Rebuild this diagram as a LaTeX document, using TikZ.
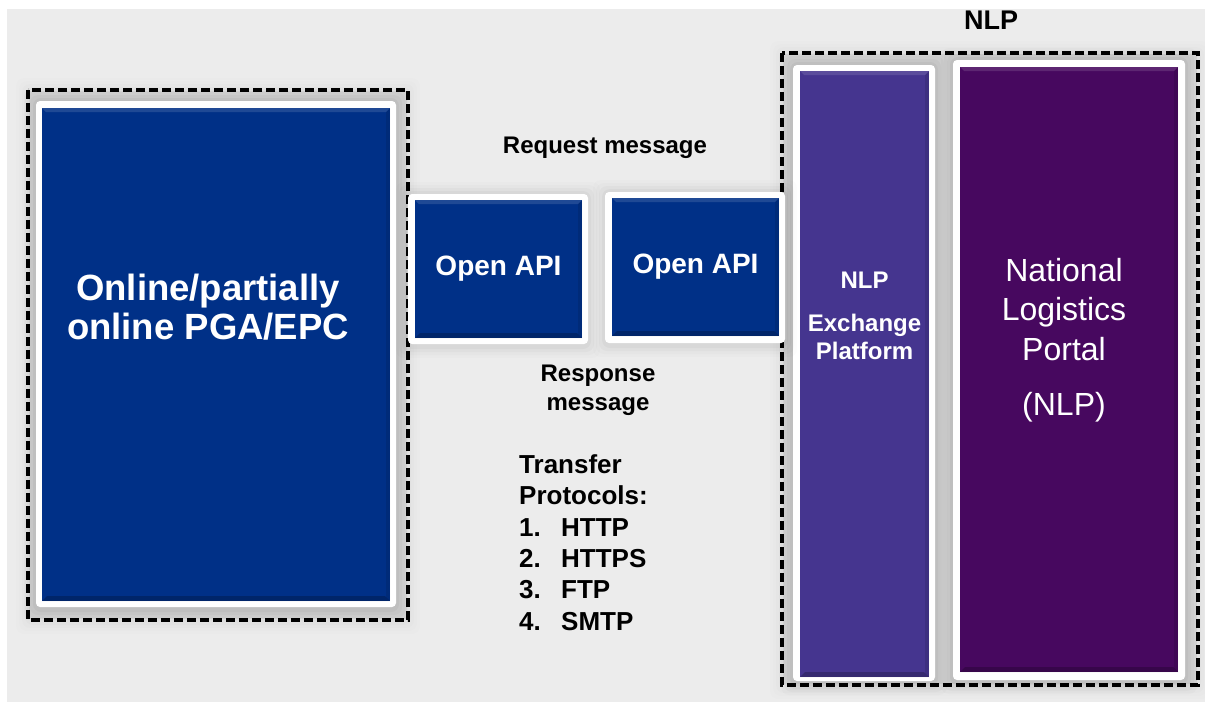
\documentclass[tikz,border=0pt]{standalone}
\usepackage{fontspec}
\setmainfont{Liberation Sans}
\definecolor{bggray}{HTML}{ECECEC}
\definecolor{pgablue}{HTML}{003087}
\definecolor{exviolet}{HTML}{45358F}
\definecolor{nlpviolet}{HTML}{47085F}
\newcommand\myhalo[5]{%
  \foreach \d/\o in {12/1,9/1.4,6/1.8,3/2.4}{%
    \fill[black,opacity=#5*\o,rounded corners=8pt] (#1-\d,#2-\d) rectangle (#3+\d,#4+\d+2);}%
}
\tikzset{
  dashbox/.style={draw=black,line width=3.2pt,dash pattern=on 9pt off 4pt},
  whitebox/.style={fill=white,rounded corners=4pt},
  bevelled/.style={path picture={
    \fill[black,opacity=.22] (path picture bounding box.south west) -- (path picture bounding box.south east)
      -- ([xshift=-5pt,yshift=5pt]path picture bounding box.south east) -- ([xshift=5pt,yshift=5pt]path picture bounding box.south west) -- cycle;
    \fill[white,opacity=.12] (path picture bounding box.north west) -- (path picture bounding box.north east)
      -- ([xshift=-4pt,yshift=-4pt]path picture bounding box.north east) -- ([xshift=4pt,yshift=-4pt]path picture bounding box.north west) -- cycle;
    \fill[black,opacity=.1] (path picture bounding box.north east) -- (path picture bounding box.south east)
      -- ([xshift=-4pt,yshift=4pt]path picture bounding box.south east) -- ([xshift=-4pt,yshift=-4pt]path picture bounding box.north east) -- cycle;
  }},
  colbox/.style={rectangle,inner sep=0pt,bevelled,text=white,align=center},
  lbl/.style={inner sep=0pt,align=center,text=black},
}
\begin{document}
\begin{tikzpicture}[x=1pt,y=-1pt]
\useasboundingbox (0,0) rectangle (1205,702);
\fill[white] (0,0) rectangle (1205,702);
\fill[bggray] (7,9) rectangle (1205,702);

% left group
\myhalo{28}{90}{408}{620}{0.006}
\fill[black,opacity=.05] (29,91) rectangle (407,619);
\myhalo{36}{101}{396}{607}{0.015}
\fill[whitebox] (36,101) rectangle (396,607);
\node[colbox,fill=pgablue,minimum width=348pt,minimum height=493pt] (pga) at (216,354.5) {};
\node[lbl,text=white,font=\bfseries\fontsize{36.5}{39}\selectfont] (pgatext) at (208,307) {Online/partially\\online PGA/EPC};
\draw[dashbox] (28,90) rectangle (408,620);

% NLP group
\myhalo{782}{53}{1198}{685}{0.006}
\fill[black,opacity=.05] (783,54) rectangle (1197,684);
\myhalo{793}{65}{935}{681}{0.015}
\fill[whitebox] (793,65) rectangle (935,681);
\myhalo{953}{60}{1185}{680}{0.015}
\fill[whitebox] (953,60) rectangle (1185,680);
\node[colbox,fill=exviolet,minimum width=129pt,minimum height=606pt] (exch) at (864.5,374) {};
\node[colbox,fill=nlpviolet,minimum width=218pt,minimum height=605pt] (portal) at (1069,369.5) {};
\node[lbl,text=white,font=\bfseries\fontsize{24}{28.5}\selectfont] (exchtext) at (864.5,316) {NLP\\[14pt]Exchange\\Platform};
\node[lbl,text=white,font=\fontsize{32}{39.5}\selectfont] (portaltext) at (1064,340) {National\\Logistics\\Portal\\[16pt](NLP)};
\draw[dashbox] (782,53) rectangle (1198,685);
\node[lbl,font=\bfseries\fontsize{27}{30}\selectfont] (nlptitle) at (991,20) {NLP};

% Open API boxes
\myhalo{408}{194}{588}{344}{0.012}
\fill[whitebox] (408,194) rectangle (588,344);
\node[colbox,fill=pgablue,minimum width=167pt,minimum height=138pt,font=\bfseries\fontsize{28}{30}\selectfont] (api1) at (498.5,269) {Open API};
\myhalo{605}{192}{785}{343}{0.012}
\fill[whitebox] (605,192) rectangle (785,343);
\node[colbox,fill=pgablue,minimum width=167pt,minimum height=138pt,font=\bfseries\fontsize{28}{30}\selectfont] (api2) at (695.5,267) {Open API};

% labels
\node[lbl,font=\bfseries\fontsize{24}{28}\selectfont] (req) at (605,148) {Request message};
\node[lbl,font=\bfseries\fontsize{24}{29}\selectfont] (resp) at (598,390) {Response\\message};
\node[lbl,align=left,anchor=west,font=\bfseries\fontsize{26}{31.4}\selectfont] (proto) at (519,542.5)
  {Transfer\\Protocols:\\\makebox[42pt][l]{1.}HTTP\\\makebox[42pt][l]{2.}HTTPS\\\makebox[42pt][l]{3.}FTP\\\makebox[42pt][l]{4.}SMTP};
\end{tikzpicture}
\end{document}
